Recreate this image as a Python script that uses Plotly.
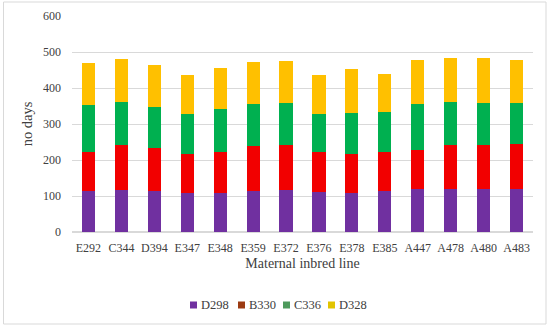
import plotly.graph_objects as go

lines = ["E292", "C344", "D394", "E347", "E348", "E359", "E372", "E376", "E378", "E385",
         "A447", "A478", "A480", "A483"]
D298 = [114, 116, 114, 107, 107, 114, 116, 112, 109, 115, 119, 119, 119, 119]
B330 = [109, 127, 118, 111, 116, 126, 127, 109, 109, 108, 109, 124, 124, 125]
C336 = [130, 119, 116, 110, 118, 116, 114, 108, 112, 109, 127, 117, 114, 113]
D328 = [117, 118, 115, 107, 115, 116, 118, 106, 122, 107, 123, 124, 125, 121]
series_names = ["D298", "B330", "C336", "D328"]
bar_colors = ["#7030A0", "#F20000", "#00B050", "#FFC000"]
legend_colors = ["#7030A0", "#9C3B12", "#4E9A5C", "#E2C400"]

L, R, T, B = 72, 17, 16, 96
W, H = 550, 328
PW, PH = W - L - R, H - T - B

def px(x):
    return (x - L) / PW

def py(y):
    return (H - B - y) / PH

fig = go.Figure()
for name, vals, col in zip(series_names, [D298, B330, C336, D328], bar_colors):
    fig.add_trace(go.Bar(x=lines, y=vals, name=name, marker_color=col,
                         marker_line_width=0, width=0.4, showlegend=False))

font = "Liberation Serif"
txt = "#404040"

shapes = [dict(type="rect", xref="paper", yref="paper",
               x0=px(3.5), x1=px(546), y0=py(324), y1=py(2),
               line=dict(color="#d9d9d9", width=1), fillcolor="rgba(0,0,0,0)",
               layer="below")]
annotations = []
leg_x = [190, 238, 283, 328]
leg_y = 305
for lx, name, col in zip(leg_x, series_names, legend_colors):
    shapes.append(dict(type="rect", xref="paper", yref="paper",
                       x0=px(lx), x1=px(lx + 7), y0=py(leg_y + 3.5), y1=py(leg_y - 3.5),
                       line=dict(width=0), fillcolor=col))
    annotations.append(dict(xref="paper", yref="paper", x=px(lx + 9), y=py(leg_y),
                            xanchor="left", yanchor="middle", text=name, showarrow=False,
                            font=dict(family=font, size=12.5, color=txt)))

fig.update_layout(
    barmode="stack",
    width=W, height=H,
    margin=dict(l=L, r=R, t=T, b=B),
    plot_bgcolor="white", paper_bgcolor="white",
    font=dict(family=font, size=12, color=txt),
    showlegend=False,
    xaxis=dict(title=dict(text="Maternal inbred line", standoff=3, font=dict(size=14)),
               showgrid=False, showline=True, linecolor="#d9d9d9", ticks="",
               tickfont=dict(size=12), ticklabelstandoff=5, automargin=False),
    yaxis=dict(title=dict(text="no days", standoff=6, font=dict(size=14.5)),
               range=[0, 600], dtick=100, showgrid=True, gridcolor="#d9d9d9",
               zeroline=True, zerolinecolor="#d9d9d9", ticklabelstandoff=10,
               tickfont=dict(size=12), automargin=False),
    shapes=shapes,
    annotations=annotations,
)
fig.write_html("out.html", config={"displayModeBar": False},
               post_script="document.body.style.margin='0';document.body.style.overflow='hidden';")
